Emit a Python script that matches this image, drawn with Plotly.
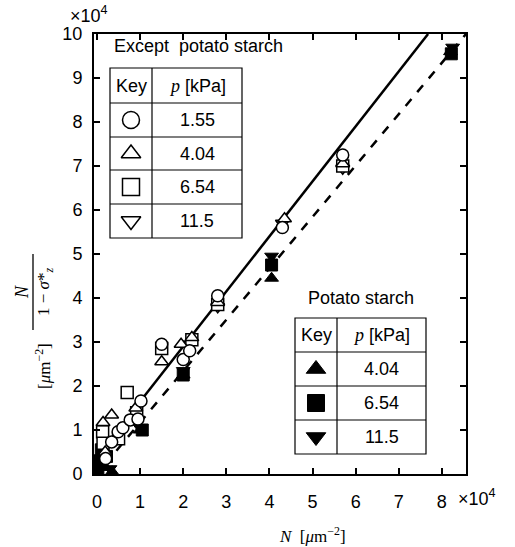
import plotly.graph_objects as go

# ---------------- data (units of 1e4) ----------------
circ_x = [0.20, 0.34, 0.49, 0.60, 0.77, 0.95, 1.02, 1.50, 2.00, 2.15, 2.80, 4.30, 5.70]
circ_y = [0.35, 0.73, 0.96, 1.05, 1.23, 1.25, 1.66, 2.95, 2.60, 2.80, 4.05, 5.60, 7.25]

tri_x = [0.14, 0.19, 0.34, 0.90, 1.50, 1.95, 2.20, 2.80, 4.35, 5.70]
tri_y = [1.17, 0.50, 1.34, 1.50, 2.55, 2.95, 3.10, 3.90, 5.80, 7.05]

sq_x = [0.13, 0.14, 0.50, 0.70, 0.92, 1.50, 2.20, 2.80, 5.70]
sq_y = [0.96, 0.70, 0.80, 1.85, 1.39, 2.85, 3.05, 3.85, 7.00]

itri_x = [0.90, 2.10, 2.80, 4.30, 5.70]
itri_y = [1.25, 2.95, 3.80, 5.70, 6.95]

ptri_x = [0.20, 0.35, 1.00, 2.00, 4.05, 8.20]
ptri_y = [0.15, 0.05, 1.00, 2.25, 4.45, 9.60]

psq_x = [0.02, 0.05, 0.10, 0.22, 1.05, 2.00, 4.05, 8.22]
psq_y = [0.10, 0.30, 0.55, 0.40, 1.00, 2.25, 4.75, 9.55]

pitri_x = [0.12, 0.30, 1.00, 2.00, 4.05, 8.25]
pitri_y = [0.25, 0.12, 1.05, 2.35, 4.95, 9.70]

solid_x = [1.0, 7.68]
solid_y = [1.65, 10.0]
dash_x = [0.45, 8.56]
dash_y = [0.53, 10.0]

xticks = [0, 1, 2, 3, 4, 5, 6, 7, 8]
yticks = [0, 1, 2, 3, 4, 5, 6, 7, 8, 9, 10]

key1_labels = ["1.55", "4.04", "6.54", "11.5"]
key2_labels = ["4.04", "6.54", "11.5"]

# ---------------- geometry helpers ----------------
W, H = 515, 547
L, R, T, B = 94, 466, 34, 474
XR = [-0.07, 8.56]
YR = [0.0, 10.0]


def dx(px):
    return XR[0] + (px - L) / (R - L) * (XR[1] - XR[0])


def dy(py):
    return YR[0] + (B - py) / (B - T) * (YR[1] - YR[0])


def pxp(px):
    return (px - L) / (R - L)


def pyp(py):
    return (B - py) / (B - T)


FONT = "Liberation Sans"
SERIF = "Liberation Serif"

fig = go.Figure()

openm = dict(color="white", line=dict(color="black", width=1.5), size=12)
fillm = dict(color="black", line=dict(color="black", width=1), size=12)

fig.add_trace(go.Scatter(x=solid_x, y=solid_y, mode="lines",
                         line=dict(color="black", width=2.5), showlegend=False))
fig.add_trace(go.Scatter(x=dash_x, y=dash_y, mode="lines",
                         line=dict(color="black", width=2.5, dash="dash"), showlegend=False))

fig.add_trace(go.Scatter(x=ptri_x, y=ptri_y, mode="markers",
                         marker=dict(symbol="triangle-up", **fillm), showlegend=False))
fig.add_trace(go.Scatter(x=psq_x, y=psq_y, mode="markers",
                         marker=dict(symbol="square", **fillm), showlegend=False))
fig.add_trace(go.Scatter(x=pitri_x, y=pitri_y, mode="markers",
                         marker=dict(symbol="triangle-down", **fillm), showlegend=False))

fig.add_trace(go.Scatter(x=itri_x, y=itri_y, mode="markers",
                         marker=dict(symbol="triangle-down", **openm), showlegend=False))
fig.add_trace(go.Scatter(x=sq_x, y=sq_y, mode="markers",
                         marker=dict(symbol="square", **openm), showlegend=False))
fig.add_trace(go.Scatter(x=tri_x, y=tri_y, mode="markers",
                         marker=dict(symbol="triangle-up", **openm), showlegend=False))
fig.add_trace(go.Scatter(x=circ_x, y=circ_y, mode="markers",
                         marker=dict(symbol="circle", **openm), showlegend=False))

shapes = []
annotations = []


def ann(x, y, text, size=18, family=FONT, ref="x", xanchor="center", angle=0):
    annotations.append(dict(x=x, y=y, xref=ref, yref=ref.replace("x", "y"), text=text,
                            showarrow=False, xanchor=xanchor, yanchor="middle",
                            textangle=angle,
                            font=dict(family=family, size=size, color="black")))


def table(x0, xm, x1, rows, header_title, title_pos, labels, symbols, filled):
    shapes.append(dict(type="rect", xref="x", yref="y", x0=dx(x0), x1=dx(x1),
                       y0=dy(rows[0]), y1=dy(rows[-1]),
                       line=dict(color="black", width=1.2), fillcolor="white", layer="below"))
    shapes.append(dict(type="line", xref="x", yref="y", x0=dx(xm), x1=dx(xm),
                       y0=dy(rows[0]), y1=dy(rows[-1]), line=dict(color="black", width=1.2)))
    for r in rows[1:-1]:
        shapes.append(dict(type="line", xref="x", yref="y", x0=dx(x0), x1=dx(x1),
                           y0=dy(r), y1=dy(r), line=dict(color="black", width=1.2)))
    ann(dx(title_pos[0]), dy(title_pos[1]), header_title, xanchor="left")
    yc0 = (rows[0] + rows[1]) / 2
    ann(dx((x0 + xm) / 2), dy(yc0), "Key")
    ann(dx((xm + x1) / 2), dy(yc0),
        "<i><span style='font-family:" + SERIF + "'>p</span></i> [kPa]")
    mx, my = [], []
    for i, lab in enumerate(labels):
        yc = (rows[i + 1] + rows[i + 2]) / 2
        ann(dx((xm + x1) / 2), dy(yc), lab)
        mx.append(dx((x0 + xm) / 2))
        my.append(dy(yc))
    for xx, yy, s in zip(mx, my, symbols):
        m = dict(symbol=s, size=17)
        if filled:
            m.update(color="black", line=dict(color="black", width=1))
        else:
            m.update(color="white", line=dict(color="black", width=1.5))
        fig.add_trace(go.Scatter(x=[xx], y=[yy], mode="markers", marker=m, showlegend=False))


table(110, 152, 242, [68, 103, 137, 170, 204, 238], "Except  potato starch", (112, 46),
      key1_labels, ["circle", "triangle-up", "square", "triangle-down"], False)
table(295, 337, 426, [318, 352, 386, 420, 454], "Potato starch", (306, 298),
      key2_labels, ["triangle-up", "square", "triangle-down"], True)

# multipliers
ann(pxp(68), pyp(14), "×10<sup>4</sup>", ref="paper", xanchor="left")
ann(pxp(456), pyp(498), "×10<sup>4</sup>", ref="paper", xanchor="left")

# x title
ann(pxp(312), pyp(535), "<i>N</i>  [<i>μ</i>m<sup>−2</sup>]", size=17, family=SERIF, ref="paper")
# y title (fraction)
ann(pxp(22), pyp(292), "<i>N</i>", size=18, family=SERIF, ref="paper", angle=-90)
shapes.append(dict(type="line", xref="paper", yref="paper", x0=pxp(33), x1=pxp(33),
                   y0=pyp(254), y1=pyp(330), line=dict(color="black", width=1.3)))
ann(pxp(45), pyp(292), "1 − <i>σ</i>*<sub><i>z</i></sub>", size=17, family=SERIF,
    ref="paper", angle=-90)
ann(pxp(43), pyp(366), "[<i>μ</i>m<sup>−2</sup>]", size=17, family=SERIF,
    ref="paper", angle=-90)

fig.update_layout(
    width=W, height=H,
    margin=dict(l=L, r=W - R, t=T, b=H - B),
    paper_bgcolor="white", plot_bgcolor="white",
    shapes=shapes, annotations=annotations,
    showlegend=False,
    xaxis=dict(range=XR, tickvals=xticks, ticktext=[str(v) for v in xticks],
               showgrid=False, zeroline=False, showline=True, linecolor="black", linewidth=2,
               mirror="ticks", ticks="inside", ticklen=6, tickwidth=2, tickcolor="black",
               ticklabelstandoff=10,
               tickfont=dict(family=FONT, size=18, color="black")),
    yaxis=dict(range=YR, tickvals=yticks, ticktext=[str(v) for v in yticks],
               showgrid=False, zeroline=False, showline=True, linecolor="black", linewidth=2,
               mirror="ticks", ticks="inside", ticklen=6, tickwidth=2, tickcolor="black",
               ticklabelstandoff=6,
               tickfont=dict(family=FONT, size=18, color="black")),
)

fig.write_html("out.html")
